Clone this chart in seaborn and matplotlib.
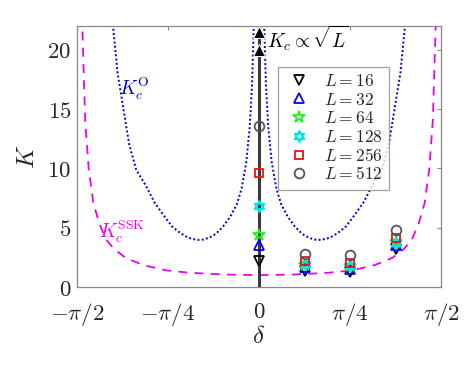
import numpy as np
import matplotlib
matplotlib.use("Agg")
import matplotlib.pyplot as plt
from matplotlib.path import Path
import seaborn as sns

# ---------------- data ----------------
# K_c^SSK curve (magenta dashed), right half; the curve is symmetric in delta
ssk_delta = [0.0, 0.3, 0.6, 0.8, 1.0, 1.15, 1.25, 1.32, 1.38, 1.43, 1.47, 1.50, 1.525, 1.545]
ssk_K = [1.0, 1.05, 1.2, 1.4, 1.85, 2.45, 3.2, 4.0, 5.4, 7.1, 10.0, 14.0, 22.0, 30.0]

# K_c^O curve (blue dotted), right half, symmetric in delta
ko_delta = [0.035, 0.045, 0.06, 0.08, 0.11, 0.15, 0.19, 0.25, 0.31, 0.37, 0.43, 0.48, 0.52,
            0.58, 0.64, 0.70, 0.75, 0.82, 0.90, 0.98, 1.06, 1.12, 1.17, 1.22, 1.26, 1.29]
ko_K = [28.0, 22.0, 17.0, 13.5, 10.5, 8.3, 7.0, 5.9, 5.1, 4.5, 4.15, 4.0, 3.97,
        4.05, 4.3, 4.7, 5.1, 6.0, 7.1, 8.6, 9.9, 12.0, 15.0, 18.0, 22.0, 26.0]

# numerical critical couplings
delta_pts = [0.0, np.pi / 8, np.pi / 4, 3 * np.pi / 8]
L_labels = [16, 32, 64, 128, 256, 512]
K_L16 = [2.15, 1.38, 1.30, 3.20]
K_L32 = [3.55, 1.70, 1.50, 3.50]
K_L64 = [4.40, 1.85, 1.75, 3.80]
K_L128 = [6.80, 1.90, 1.80, 3.70]
K_L256 = [9.65, 2.15, 2.00, 4.15]
K_L512 = [13.6, 2.75, 2.70, 4.80]
K_series = [K_L16, K_L32, K_L64, K_L128, K_L256, K_L512]

# arrow heads on the sqrt(L) line (larger L)
arrow_K = [20.0, 21.5]

x_ticks = [-np.pi / 2, -np.pi / 4, 0, np.pi / 4, np.pi / 2]
x_ticklabels = [r"$-\pi/2$", r"$-\pi/4$", r"$0$", r"$\pi/4$", r"$\pi/2$"]
y_ticks = [0, 5, 10, 15, 20]

# ---------------- styling ----------------
sns.set_style("white")
plt.rcParams["mathtext.fontset"] = "cm"
plt.rcParams["font.family"] = ["DejaVu Serif"]

fig = plt.figure(figsize=(4.74, 3.66), dpi=100)
ax = fig.add_axes([77 / 474, 1 - 287 / 366, 364 / 474, 261 / 366])

# Star-of-David marker (two overlapping triangles)
tri_up = Path([(0, 1), (-0.866, -0.5), (0.866, -0.5), (0, 1)], closed=True)
tri_dn = Path([(0, -1), (-0.866, 0.5), (0.866, 0.5), (0, -1)], closed=True)
hexagram = Path.make_compound_path(tri_up, tri_dn)

# curves
sd = np.array(ssk_delta)
sk = np.array(ssk_K)
sns.lineplot(x=np.concatenate([-sd[::-1], sd[1:]]), y=np.concatenate([sk[::-1], sk[1:]]),
             ax=ax, color="#ee00ee", linestyle=(0, (5, 4)), linewidth=1.3, sort=False,
             estimator=None)
od = np.array(ko_delta)
ok = np.array(ko_K)
for sgn in (1, -1):
    sns.lineplot(x=sgn * od, y=ok, ax=ax, color="#0000cc", linestyle=(0, (1, 1.2)),
                 linewidth=1.4, sort=False, estimator=None)

# vertical K_c ~ sqrt(L) line
ax.plot([0, 0], [0, 23], color="#3a3a3a", linewidth=2.2, zorder=2)
sns.lineplot(x=[0, 0], y=arrow_K, ax=ax, color="black", marker="^", markersize=8,
             linestyle="", sort=False, estimator=None, zorder=3)

# markers
markers = ["v", "^", "*", hexagram, "s", "o"]
colors = ["black", "#0000ff", "#22ee22", "#00e5e5", "#ee1111", "#555555"]
sizes = [7, 7, 9, 8, 6, 7]
for L, Ks, m, c, s in zip(L_labels, K_series, markers, colors, sizes):
    sns.lineplot(x=delta_pts, y=Ks, ax=ax, marker=m, markersize=s, linestyle="",
                 markerfacecolor="none", markeredgecolor=c, markeredgewidth=1.3,
                 color=c, label=rf"$L = {L}$", sort=False, estimator=None, zorder=4)

ax.set_xlim(-np.pi / 2, np.pi / 2)
ax.set_ylim(0, 22)
ax.set_xticks(x_ticks)
ax.set_xticklabels(x_ticklabels)
ax.set_yticks(y_ticks)
ax.set_yticklabels([rf"${v}$" for v in y_ticks])
ax.tick_params(axis="both", direction="in", length=3, width=0.8, color="#888888",
               labelsize=16.5, top=True, right=True)
ax.tick_params(axis="x", pad=10)
ax.tick_params(axis="y", pad=4)
for sp in ax.spines.values():
    sp.set_color("#888888")
    sp.set_linewidth(0.9)

ax.set_xlabel(r"$\delta$", fontsize=18, labelpad=-2)
ax.set_ylabel(r"$K$", fontsize=18, labelpad=6)

ax.text(0.065, 20.2, r"$K_c \propto \sqrt{L}$", fontsize=14, color="black")
ax.text(-1.21, 16.2, r"$K_c^{\rm O}$", fontsize=14, color="#0000cc")
ax.text(-1.38, 4.1, r"$K_c^{\rm SSK}$", fontsize=14, color="#ee00ee")

leg = ax.legend(loc="upper left", bbox_to_anchor=((278 - 77) / 364, (287 - 66.7) / 261),
                borderaxespad=0, fontsize=12.5, frameon=True, fancybox=False,
                edgecolor="#888888", handlelength=1.7, handletextpad=0.6,
                labelspacing=0.1, borderpad=0.35)
leg.get_frame().set_linewidth(0.9)

fig.savefig("out.png", dpi=100)
